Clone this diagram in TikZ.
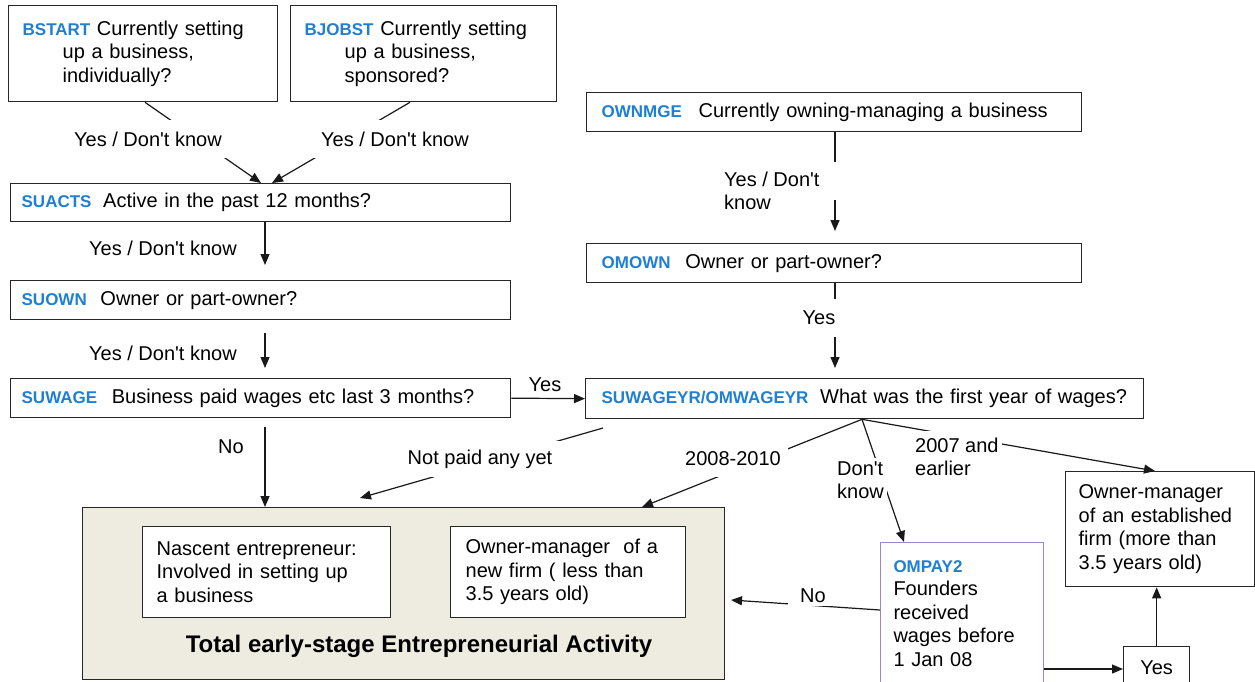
\documentclass[tikz,border=0pt]{standalone}
\usepackage{fontspec}
\setmainfont{Liberation Sans}[Ligatures=TeXOff]
\usetikzlibrary{arrows.meta,calc}
\definecolor{codeblue}{HTML}{1F7FD3}
\definecolor{teafill}{HTML}{EEECE1}
\definecolor{purp}{HTML}{9C86C6}
\definecolor{boxline}{HTML}{262626}
\newcommand{\qcode}[1]{{\fontsize{17}{20}\selectfont\bfseries\color{codeblue}#1}}
\begin{document}
\begin{tikzpicture}[x=1pt,y=-1pt,
  font=\fontsize{20}{23.5}\selectfont,
  box/.style={draw=boxline, line width=1.3pt, anchor=north west, align=left, inner ysep=0pt},
  arr/.style={line width=1.2pt, draw=black!90, -{Triangle[length=11pt,width=9pt]}},
  ln/.style={line width=1.2pt, draw=black!90},
  lab/.style={fill=white, inner sep=3pt, align=left},
]
\useasboundingbox (0,0) rectangle (1255,681);

% ---- boxes ----
\node[box, text width=241pt, inner xsep=14pt, minimum height=96pt] (bstart) at (8,5)
  {\qcode{BSTART} Currently setting\\\hspace*{40pt}up a business,\\\hspace*{40pt}individually?};
\node[box, text width=238pt, inner xsep=14pt, minimum height=96pt] (bjobst) at (290,5)
  {\qcode{BJOBST} Currently setting\\\hspace*{40pt}up a business,\\\hspace*{40pt}sponsored?};
\node[box, text width=478pt, inner xsep=11pt, minimum height=38pt] (suacts) at (10,183)
  {\qcode{SUACTS}\hspace{5pt} Active in the past 12 months?};
\node[box, text width=478pt, inner xsep=11pt, minimum height=39pt] (suown) at (10,280)
  {\qcode{SUOWN}\hspace{7pt} Owner or part-owner?};
\node[box, text width=478pt, inner xsep=11pt, minimum height=39pt] (suwage) at (10,378)
  {\qcode{SUWAGE}\hspace{8pt} Business paid wages etc last 3 months?};
\node[box, text width=465pt, inner xsep=15pt, minimum height=39pt] (ownmge) at (586,92)
  {\qcode{OWNMGE}\hspace{10pt} Currently owning-managing a business};
\node[box, text width=465pt, inner xsep=15pt, minimum height=39pt] (omown) at (586,243)
  {\qcode{OMOWN}\hspace{8pt} Owner or part-owner?};
\node[box, text width=526pt, inner xsep=16pt, minimum height=40pt] (suwageyr) at (585,378)
  {\qcode{SUWAGEYR/OMWAGEYR}\hspace{5pt} What was the first year of wages?};

\node[box, fill=teafill, minimum width=642pt, minimum height=172pt] (tea) at (82,507) {};
\node[box, fill=white, text width=220pt, inner xsep=14pt, minimum height=91pt] (nascent) at (142,526)
  {Nascent entrepreneur:\\Involved in setting up\\a business};
\node[box, fill=white, text width=205pt, inner xsep=15pt, minimum height=91pt] (newfirm) at (450,526)
  {Owner-manager\ \ of a\\new firm ( less than\\3.5 years old)};
\node[font=\fontsize{24}{28}\selectfont\bfseries] (teatitle) at (419,646)
  {Total early-stage Entrepreneurial Activity};

\node[box, text width=163pt, inner xsep=13pt, minimum height=115pt] (estab) at (1065,471)
  {Owner-manager\\of an established\\firm (more than\\3.5 years old)};
\node[box, draw=purp, line width=1pt, text width=137pt, inner xsep=13pt, minimum height=142pt] (ompay) at (880,542)
  {\qcode{OMPAY2}\\Founders\\received\\wages before\\1 Jan 08};
\node[box, minimum width=66pt, minimum height=42pt, align=center] (yesbox) at (1123,646) {Yes};

% ---- free connector ends ----
\coordinate (ap) at ($(suwageyr.south west)+(277,0)$);
\coordinate (np) at (603,428);
\coordinate (s4) at ($(suown.south west)+(255,13)$);
\coordinate (s6) at ($(suwage.south west)+(255,9)$);
\coordinate (e3) at ($(suown.north west)+(255,-15)$);
\coordinate (e4) at ($(suwage.north west)+(255,-10)$);
\coordinate (g1) at ($(ownmge.south west)+(249,30)$);
\coordinate (g2) at ($(ownmge.south west)+(249,68)$);
\coordinate (e11) at ($(omown.north west)+(249,-12)$);
\coordinate (e12) at ($(suwageyr.north west)+(250,-10)$);
\coordinate (t7) at (360,498);
\coordinate (t13) at (731,600);

% ---- connectors ----
\draw[arr] ($(bstart.south west)+(137,0)$) -- ($(suacts.north west)+(251,0)$);
\draw[arr] ($(bjobst.south west)+(120,0)$) -- ($(suacts.north west)+(262,0)$);
\draw[arr] ($(suacts.south west)+(255,0)$) -- (e3);
\draw[arr] (s4) -- (e4);
\draw[arr] (suwage.east) -- (suwageyr.west);
\draw[arr] (s6) -- ($(tea.north west)+(183,0)$);
\draw[arr] (np) -- (t7);
\draw[arr] (ap) -- ($(tea.north west)+(560,0)$);
\draw[arr] (ap) -- ($(ompay.north west)+(24,0)$);
\draw[arr] (ap) -- ($(estab.north west)+(90,0)$);
\draw[ln] ($(ownmge.south west)+(249,0)$) -- (g1);
\draw[arr] (g2) -- (e11);
\draw[arr] ($(omown.south west)+(249,0)$) -- (e12);
\draw[arr] ($(ompay.north west)+(0,68)$) -- (t13);
\draw[arr] ($(ompay.north east)+(0,127)$) -- ($(yesbox.north west)+(0,23)$);
\draw[arr] (yesbox.north) -- (estab.south -| yesbox.north);

% ---- labels ----
\node[lab, minimum width=165pt, minimum height=38pt] (l1) at (148,139) {Yes / Don't know};
\node[lab, minimum width=165pt, minimum height=38pt] (l2) at (395,139) {Yes / Don't know};
\node[lab, minimum width=165pt, minimum height=38pt] (l3) at (163,248) {Yes / Don't know};
\node[lab, minimum width=165pt, minimum height=38pt] (l4) at (163,353) {Yes / Don't know};
\node[lab] (l5) at (545,385) {Yes};
\node[lab] (l6) at (231,447) {No};
\node[anchor=west, align=left, inner sep=3pt] (l7) at (721,191) {Yes / Don't\\know};
\node[lab, minimum width=70pt, minimum height=38pt] (l8) at (819,318) {Yes};
\node[lab, minimum width=170pt, minimum height=36pt] (l9) at (480,459) {Not paid any yet};
\node[lab, minimum width=110pt, minimum height=36pt] (l10) at (733,459) {2008-2010};
\node[lab, anchor=west] (l11) at (834,480) {Don't\\know};
\node[lab, anchor=west, minimum height=52pt] (l12) at (912,457) {2007 and\\earlier};
\node[lab, minimum width=50pt] (l13) at (813,596) {No};
\end{tikzpicture}
\end{document}
